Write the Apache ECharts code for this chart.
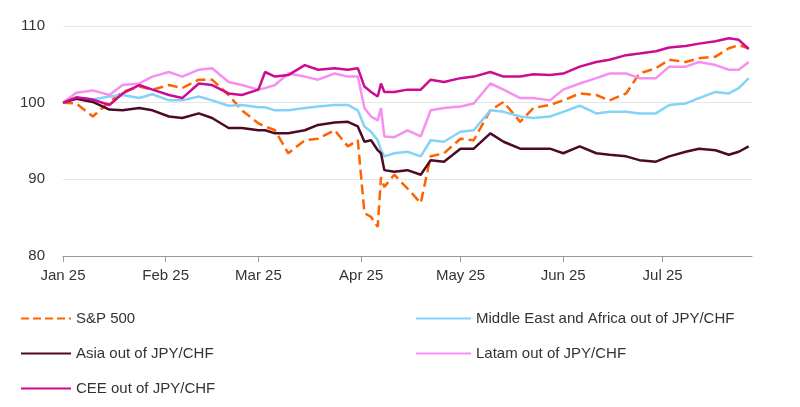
<!DOCTYPE html>
<html>
<head>
<meta charset="utf-8">
<script src="https://cdn.jsdelivr.net/npm/echarts@6/dist/echarts.min.js"></script>
<style>
  html, body { margin: 0; padding: 0; background: #fff; }
  #chart { width: 800px; height: 407px; }
</style>
</head>
<body>
<div id="chart"></div>
<script>
// days after 1 Jan 2025
const days = [0, 4, 9, 14, 18, 23, 27, 32, 36, 41, 45, 50, 54, 59, 61, 64, 68, 73, 77, 82, 86, 89, 91, 93, 95, 96, 97, 100, 104, 108, 111, 115, 120, 124, 129, 133, 138, 142, 147, 151, 156, 161, 165, 170, 174, 179, 183, 188, 192, 197, 201, 204, 207]

const sp500 = [100, 99.9, 98.2, 100.1, 101.4, 102.1, 101.7, 102.3, 101.9, 103, 103, 101, 99, 97.3, 96.9, 96.4, 93.4, 95.1, 95.3, 96.4, 94.3, 95.1, 85.6, 85.1, 83.8, 90.3, 89, 90.6, 88.8, 86.9, 93, 93.4, 95.3, 95.1, 99, 100.1, 97.5, 99.3, 99.7, 100.3, 101.2, 101, 100.3, 101.2, 103.8, 104.5, 105.6, 105.3, 105.8, 106, 107.1, 107.5, 107.1]
const mea = [100, 100.6, 100.4, 100.8, 101, 100.6, 101.1, 100.3, 100.3, 100.8, 100.3, 99.6, 99.7, 99.4, 99.4, 99.0, 99.0, 99.3, 99.5, 99.7, 99.7, 99, 96.9, 96.2, 95.1, 93.8, 93, 93.4, 93.6, 93, 95.1, 94.9, 96.2, 96.4, 99, 98.8, 98.2, 98, 98.2, 98.8, 99.6, 98.6, 98.8, 98.8, 98.6, 98.6, 99.7, 99.9, 100.6, 101.4, 101.2, 101.9, 103.2]
const asia = [100, 100.5, 100.1, 99.1, 99, 99.3, 99, 98.2, 98, 98.6, 98, 96.7, 96.7, 96.4, 96.4, 96, 96, 96.4, 97.1, 97.4, 97.5, 96.9, 94.9, 95.1, 93.8, 93.4, 91.2, 91, 91.2, 90.6, 92.5, 92.3, 94, 94, 96, 94.9, 94, 94, 94, 93.4, 94.3, 93.4, 93.2, 93, 92.5, 92.3, 93, 93.6, 94, 93.8, 93.2, 93.6, 94.3]
const latam = [100, 101.3, 101.6, 101, 102.3, 102.5, 103.4, 104, 103.4, 104.3, 104.5, 102.7, 102.3, 101.7, 101.9, 102.3, 103.8, 103.4, 103, 103.8, 103.4, 103.4, 99.3, 98.2, 97.7, 99.3, 95.6, 95.5, 96.4, 95.6, 99, 99.3, 99.5, 99.9, 102.5, 101.7, 100.6, 100.6, 100.3, 101.7, 102.5, 103.2, 103.8, 103.8, 103.2, 103.2, 104.7, 104.7, 105.3, 104.9, 104.3, 104.3, 105.3]
const cee = [100, 100.7, 100.4, 99.7, 101.2, 102.3, 101.7, 101, 100.6, 102.5, 102.3, 101.2, 101, 101.7, 104, 103.4, 103.6, 104.9, 104.3, 104.5, 104.3, 104.5, 102.1, 101.4, 100.8, 102.5, 101.4, 101.4, 101.7, 101.7, 103, 102.7, 103.2, 103.4, 104, 103.4, 103.4, 103.7, 103.6, 103.8, 104.7, 105.3, 105.6, 106.2, 106.4, 106.7, 107.2, 107.4, 107.7, 108, 108.4, 108.2, 107]

const start = Date.UTC(2025, 0, 1)
const DAY = 86400000
const pairs = (vals) => vals.map((v, i) => [start + days[i] * DAY, v])

const mk = (name, vals, color, width, type) => ({
  name,
  type: 'line',
  data: pairs(vals),
  symbol: 'none',
  lineStyle: { color, width, type: type || 'solid' },
  itemStyle: { color },
  z: 2
})

const font = 'Liberation Sans, Arial, sans-serif'
const legendText = { fontSize: 15, color: '#333', fontFamily: font }

const chart = echarts.init(document.getElementById('chart'))
chart.setOption({
  animation: false,
  textStyle: { fontFamily: font },
  grid: { left: 63, right: 48, top: 26, bottom: 151 },
  legend: [
    {
      left: 15, top: 306, orient: 'vertical', itemGap: 20,
      itemWidth: 50, itemHeight: 10, textStyle: legendText,
      itemStyle: { opacity: 0 },
      data: ['S&P 500', 'Asia out of JPY/CHF', 'CEE out of JPY/CHF']
    },
    {
      left: 410, top: 306, orient: 'vertical', itemGap: 20,
      itemWidth: 55, itemHeight: 10, textStyle: legendText,
      itemStyle: { opacity: 0 },
      data: ['Middle East and Africa out of JPY/CHF', 'Latam out of JPY/CHF']
    }
  ],
  xAxis: {
    type: 'time',
    min: start,
    max: start + 208 * DAY,
    splitNumber: 7,
    axisLine: { lineStyle: { color: '#999' } },
    axisTick: { show: true, length: 6, lineStyle: { color: '#999' } },
    axisLabel: { fontSize: 15, color: '#333', margin: 12, formatter: '{MMM} {yy}', hideOverlap: false },
    splitLine: { show: false }
  },
  yAxis: {
    type: 'value',
    min: 80, max: 110, interval: 10,
    axisLine: { show: false },
    axisTick: { show: false },
    axisLabel: { fontSize: 15, color: '#333', margin: 18 },
    splitLine: { lineStyle: { color: '#e6e6e6' } }
  },
  series: [
    mk('S&P 500', sp500, '#ff6200', 2.5, 'dashed'),
    mk('Middle East and Africa out of JPY/CHF', mea, '#84d3f7', 2.5),
    mk('Asia out of JPY/CHF', asia, '#4d0a26', 2.5),
    mk('Latam out of JPY/CHF', latam, '#f590f0', 2.5),
    mk('CEE out of JPY/CHF', cee, '#cc0b91', 2.5)
  ]
})
</script>
</body>
</html>
